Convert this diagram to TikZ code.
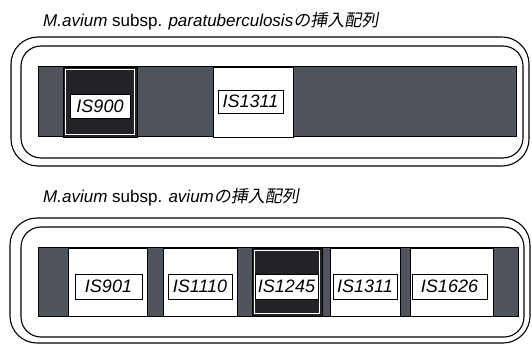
\documentclass[tikz,border=0pt]{standalone}
\usepackage{fontspec}
\setmainfont{Liberation Sans}
\newfontfamily\jpfont[FakeSlant=0.18]{Noto Sans CJK JP}
\usetikzlibrary{positioning}
\definecolor{bandgray}{RGB}{80,84,92}
\definecolor{insdark}{RGB}{34,35,38}

\begin{document}
\begin{tikzpicture}[x=1pt,y=-1pt,
  frame/.style={draw=black,line width=1.1pt,rounded corners=#1},
  band/.style={draw=black,fill=bandgray,line width=1pt},
  whiteseg/.style={draw=black,fill=white,line width=.6pt},
  darkseg/.style={draw=black,fill=insdark,line width=.6pt},
  lbl/.style={draw=black,fill=white,line width=.6pt,inner sep=0pt,
    minimum width=#1,font=\fontsize{18}{18}\selectfont\itshape},
  title/.style={anchor=base west,inner sep=0pt,font=\fontsize{17}{17}\selectfont}]
\useasboundingbox (0,0) rectangle (532,344);

% paratuberculosis
\node[title] (title1) at (43,27) {\textit{M.avium} subsp. \textit{paratuberculosis}{\jpfont の挿入配列}};
\draw[frame=27] (11,37) rectangle (529,166);
\draw[frame=20] (21,46) rectangle (523,158);
\draw[band] (38,67) rectangle (516,137);
\draw[darkseg] (63,67) rectangle (137,137);
\draw[white,line width=1pt] (65.5,69.5) rectangle (134.5,134.5);
\draw[whiteseg] (213,67) rectangle (293,137);
\node[lbl=60,minimum height=24] (is900) at (100,106) {IS900};
\node[lbl=65,minimum height=23] (is1311a) at (250.5,101.5) {IS1311};

% avium
\node[title] (title2) at (43,203) {\textit{M.avium} subsp. \textit{avium}{\jpfont の挿入配列}};
\draw[frame=27] (10,218) rectangle (530,343);
\draw[frame=20] (21,227) rectangle (524,337);
\draw[band] (38,248) rectangle (518,316);
\draw[whiteseg] (68,248) rectangle (147,316);
\draw[whiteseg] (163,248) rectangle (237,316);
\draw[darkseg] (252,248) rectangle (322,316);
\draw[white,line width=1pt] (254.5,250.5) rectangle (319.5,313.5);
\draw[whiteseg] (330,248) rectangle (400,316);
\draw[whiteseg] (410,248) rectangle (493,316);
\node[lbl=67,minimum height=25] (is901) at (108.5,286.5) {IS901};
\node[lbl=64,minimum height=25] (is1110) at (200,286.5) {IS1110};
\node[lbl=63,minimum height=25] (is1245) at (286.5,286.5) {IS1245};
\node[lbl=64,minimum height=25] (is1311b) at (365,286.5) {IS1311};
\node[lbl=75,minimum height=25] (is1626) at (449.5,286.5) {IS1626};

\end{tikzpicture}
\end{document}
